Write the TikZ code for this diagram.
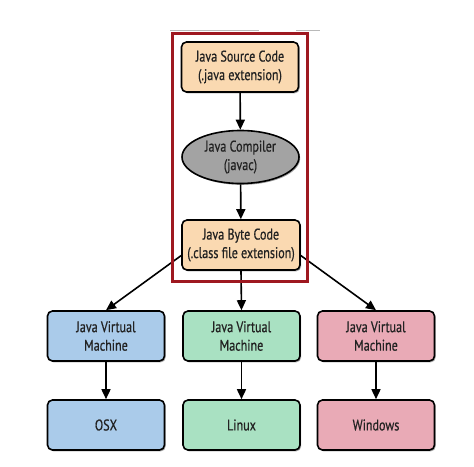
\documentclass[tikz,border=0pt]{standalone}
\usepackage{fontspec}
\setmainfont[FakeStretch=0.78,FakeBold=0.6]{PT Sans}
\usetikzlibrary{shapes.geometric,shadows,arrows.meta}
\definecolor{peach}{HTML}{FAD9B1}
\definecolor{compgray}{HTML}{A3A3A3}
\definecolor{jblue}{HTML}{AACBEA}
\definecolor{jgreen}{HTML}{A9E1C2}
\definecolor{jpink}{HTML}{E9AAB6}
\definecolor{framered}{HTML}{9E1820}
\definecolor{txt}{HTML}{222222}
\begin{document}
\begin{tikzpicture}[x=1pt,y=-1pt,
  box/.style={draw=black,line width=1.6pt,rounded corners=5pt,minimum width=117pt,minimum height=50pt,align=center,font=\fontsize{15.5}{18.5}\selectfont,text=txt,inner sep=1pt,
    drop shadow={shadow xshift=1.2pt,shadow yshift=-1.4pt,opacity=0.35,fill=black}},
  oval/.style={ellipse,draw=black,line width=1.6pt,minimum width=117pt,minimum height=53pt,align=center,font=\fontsize{15.5}{18.5}\selectfont,text=txt,inner sep=0pt,fill=compgray,
    drop shadow={shadow xshift=1.2pt,shadow yshift=-1.4pt,opacity=0.35,fill=black}},
  arr/.style={line width=1.6pt,-{Triangle[length=10pt,width=9pt]}}]
\useasboundingbox (0,0) rectangle (474,466);
\draw[gray!55,line width=1pt] (170,30) -- (259,30) (296,30) -- (320,30);
\node[box,fill=peach] (src) at (240,67) {Java Source Code\\(.java extension)};
\node[oval] (comp) at (240.5,157) {Java Compiler\\(javac)};
\node[box,fill=peach,minimum width=118pt] (byte) at (241,245) {Java Byte Code\\(.class file extension)};
\node[box,fill=jblue] (jvm1) at (106,336) {Java Virtual\\Machine};
\node[box,fill=jgreen] (jvm2) at (241.5,336) {Java Virtual\\Machine};
\node[box,fill=jpink] (jvm3) at (376,336) {Java Virtual\\Machine};
\node[box,fill=jblue] (os1) at (106,425) {OSX};
\node[box,fill=jgreen] (os2) at (241.5,425) {Linux};
\node[box,fill=jpink] (os3) at (376,425) {Windows};
\draw[arr] (src) -- (comp);
\draw[arr] (comp) -- (byte);
\draw[arr] (byte.190) -- (jvm1.north);
\draw[arr] (byte.south) -- (jvm2.north);
\draw[arr] (byte.350) -- (jvm3.north);
\draw[arr] (jvm1) -- (os1);
\draw[arr] (jvm2) -- (os2);
\draw[arr] (jvm3) -- (os3);
\draw[framered,line width=3.2pt] (172.5,33.5) rectangle (307.5,281.5);
\end{tikzpicture}
\end{document}
